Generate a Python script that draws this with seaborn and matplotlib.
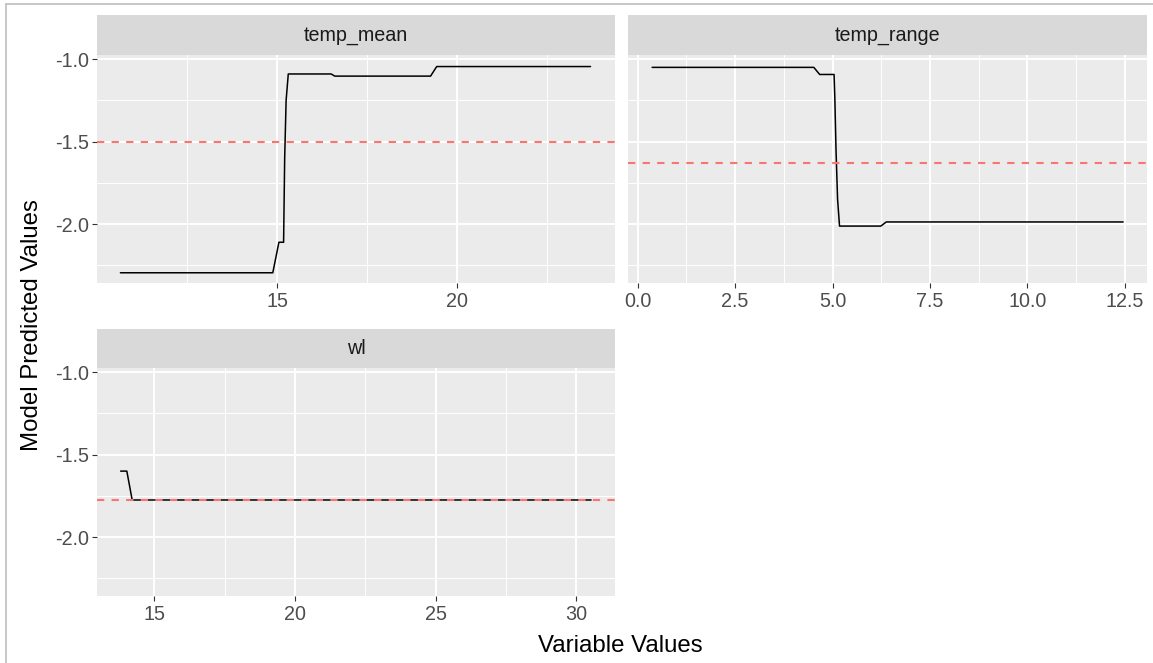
import numpy as np
import pandas as pd
import matplotlib
matplotlib.use("Agg")
import matplotlib.pyplot as plt
from matplotlib.patches import Rectangle
from matplotlib.lines import Line2D
import seaborn as sns

# ---------------- data ----------------
variables = ["temp_mean", "temp_range", "wl"]

temp_mean_x = [10.65, 14.88, 15.05, 15.18, 15.21, 15.25, 15.31, 16.50, 16.60, 19.26, 19.43, 23.70]
temp_mean_y = [-2.295, -2.295, -2.11, -2.11, -1.60, -1.25, -1.09, -1.09, -1.103, -1.103, -1.045, -1.045]

temp_range_x = [0.37, 4.52, 4.67, 5.04, 5.06, 5.09, 5.13, 5.18, 6.24, 6.38, 12.46]
temp_range_y = [-1.05, -1.05, -1.093, -1.093, -1.24, -1.55, -1.85, -2.012, -2.012, -1.987, -1.987]

wl_x = [13.80, 14.02, 14.21, 30.52]
wl_y = [-1.60, -1.60, -1.775, -1.775]

mean_pred = [-1.50, -1.63, -1.775]

x_major = [[15, 20], [0, 2.5, 5.0, 7.5, 10.0, 12.5], [15, 20, 25, 30]]
x_major_labels = [["15", "20"], ["0.0", "2.5", "5.0", "7.5", "10.0", "12.5"], ["15", "20", "25", "30"]]
x_minor = [[12.5, 17.5, 22.5], [1.25, 3.75, 6.25, 8.75, 11.25], [17.5, 22.5, 27.5]]
x_limits = [(10.0, 24.38), (-0.25, 13.06), (12.96, 31.37)]

y_major = [-2.0, -1.5, -1.0]
y_major_labels = ["-2.0", "-1.5", "-1.0"]
y_minor = [-2.25, -1.75, -1.25]
y_limits = (-2.357, -0.975)

df = pd.concat([
    pd.DataFrame({"variable": "temp_mean", "x": temp_mean_x, "y": temp_mean_y}),
    pd.DataFrame({"variable": "temp_range", "x": temp_range_x, "y": temp_range_y}),
    pd.DataFrame({"variable": "wl", "x": wl_x, "y": wl_y}),
], ignore_index=True)

# ---------------- style ----------------
sns.set_theme(style="darkgrid")
plt.rcParams["font.family"] = ["Liberation Sans", "DejaVu Sans"]
plt.rcParams["axes.unicode_minus"] = False

W, H = 1153, 663
fig = plt.figure(figsize=(W / 100, H / 100), dpi=100, facecolor="white")

def fx(px):
    return px / W

def fy(px):
    return 1 - px / H

panel_px = [  # left, right, top, bottom (pixels)
    (97, 615, 55, 283),
    (628, 1146.5, 55, 283),
    (97, 615, 368, 596),
]
strip_px = 39.5

tick_fs = 14.2
GRAY_BG = "#EBEBEB"

for i, var in enumerate(variables):
    l, r, t, b = panel_px[i]
    ax = fig.add_axes([fx(l), fy(b), fx(r - l), (b - t) / H])
    ax.set_facecolor(GRAY_BG)
    for s in ax.spines.values():
        s.set_visible(False)

    sub = df[df["variable"] == var]
    sns.lineplot(data=sub, x="x", y="y", ax=ax, color="black", linewidth=1.1,
                 estimator=None, sort=False, zorder=3)
    ax.axhline(mean_pred[i], color="#F8766D", linestyle=(0, (3.5, 3.5)), linewidth=1.5, zorder=4)

    ax.set_xlim(*x_limits[i])
    ax.set_ylim(*y_limits)
    ax.set_xticks(x_major[i])
    ax.set_xticklabels(x_major_labels[i])
    ax.set_xticks(x_minor[i], minor=True)
    ax.set_yticks(y_major)
    ax.set_yticks(y_minor, minor=True)
    if i == 1:
        ax.set_yticklabels([])
        ax.tick_params(axis="y", which="both", length=0)
    else:
        ax.set_yticklabels(y_major_labels)

    ax.grid(which="major", color="white", linewidth=1.4)
    ax.grid(which="minor", color="white", linewidth=0.7)
    ax.set_axisbelow(True)
    ax.tick_params(axis="both", which="major", length=3.6, width=0.8, color="#333333",
                   labelsize=tick_fs, labelcolor="#4D4D4D", pad=2.0)
    ax.tick_params(axis="y", which="major", left=(i != 1))
    ax.tick_params(axis="both", which="minor", length=0)
    ax.tick_params(axis="x", which="major", bottom=True, pad=3.0)
    ax.set_xlabel("")
    ax.set_ylabel("")

    # facet strip
    hfrac = strip_px / (b - t)
    ax.add_patch(Rectangle((0, 1), 1, hfrac, transform=ax.transAxes, facecolor="#D9D9D9",
                           edgecolor="none", clip_on=False, zorder=1))
    ax.text(0.5, 1 + hfrac / 2, var, transform=ax.transAxes, ha="center", va="center",
            fontsize=tick_fs, color="#1A1A1A")

# axis titles
fig.text(fx(32), fy(325), "Model Predicted Values", rotation=90, ha="center", va="center",
         fontsize=17.3, color="black")
fig.text(fx(620), fy(646), "Variable Values", ha="center", va="center",
         fontsize=17.3, color="black")

# screenshot frame lines
fig.add_artist(Line2D([fx(5.5), 1.0], [fy(3.5), fy(3.5)], transform=fig.transFigure,
                      color="#BDBDBD", linewidth=1.2))
fig.add_artist(Line2D([fx(5.5), fx(5.5)], [0.0, fy(3.5)], transform=fig.transFigure,
                      color="#BDBDBD", linewidth=1.2))

fig.savefig("out.png", dpi=100, facecolor="white")
